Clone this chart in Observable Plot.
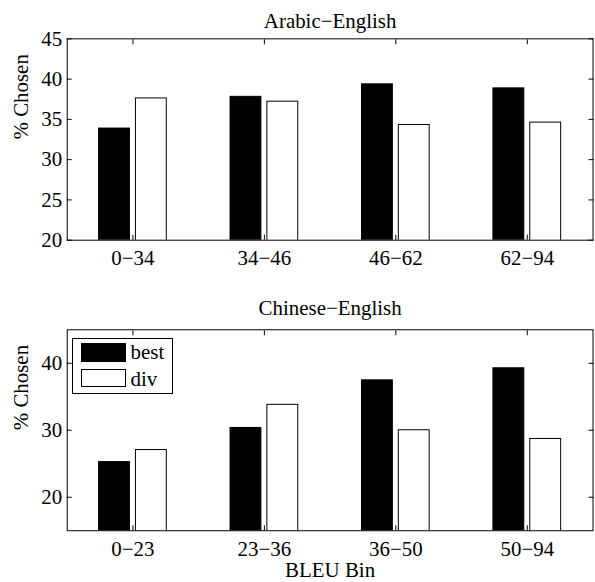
<!DOCTYPE html>
<html><head><meta charset="utf-8">
<script src="https://cdn.jsdelivr.net/npm/d3@7"></script>
<script src="https://cdn.jsdelivr.net/npm/@observablehq/plot@0.6"></script>
<style>
html,body{margin:0;padding:0;background:#fff;overflow:hidden;}
#wrap{position:relative;width:595px;height:582px;overflow:hidden;}
#wrap svg{display:block;}
#legend{position:absolute;left:72px;top:338px;width:101px;height:56px;border:1px solid #000;background:#fff;font-family:"Liberation Serif","Times New Roman",Times,"DejaVu Serif",serif;font-size:21px;line-height:21px;box-sizing:border-box;}
#legend .sw{position:absolute;left:8px;width:45px;height:18.5px;border:1px solid #000;box-sizing:border-box;}
#legend .lb{position:absolute;left:57.5px;white-space:nowrap;color:#000;}
</style></head>
<body><div id="wrap"></div>
<script>
const series = ["best", "div"];
const seriesColors = ["black", "white"];

const arBins = ["0−34", "34−46", "46−62", "62−94"];
const arBest = [33.86, 37.8, 39.35, 38.85];
const arDiv  = [37.6, 37.2, 34.3, 34.6];
const arTicks = [20, 25, 30, 35, 40, 45];

const zhBins = ["0−23", "23−36", "36−50", "50−94"];
const zhBest = [25.25, 30.35, 37.45, 39.25];
const zhDiv  = [27.05, 33.8, 30.0, 28.7];
const zhTicks = [20, 30, 40];

const FONT = "'Liberation Serif', 'Times New Roman', Times, 'DejaVu Serif', serif";

function panel({bins, best, div, yDomain, yTicks, title, titleDy, height, marginTop, marginBottom, xLabel}) {
  const rows = [];
  bins.forEach((b, i) => {
    rows.push({bin: b, series: series[0], value: best[i]});
    rows.push({bin: b, series: series[1], value: div[i]});
  });
  const marks = [
    Plot.barY(rows, {fx: "bin", x: "series", y: "value", fill: "series", stroke: "black", strokeWidth: 1, clip: true}),
    Plot.frame({facet: "super", stroke: "black", strokeWidth: 1}),
    Plot.axisY({ticks: yTicks, anchor: "left", tickSize: 0, tickPadding: 5, label: null, fill: "black"}),
    Plot.axisY({ticks: yTicks, anchor: "left", tickSize: 5, dx: 5, text: null, label: null, stroke: "black"}),
    Plot.axisY({ticks: yTicks, anchor: "right", tickSize: 5, dx: -5, text: null, label: null, stroke: "black"}),
    Plot.axisFx({anchor: "bottom", tickSize: 0, tickPadding: 10, label: null, fill: "black"}),
    Plot.axisFx({anchor: "bottom", tickSize: 5, dy: -5, text: null, label: null, stroke: "black"}),
    Plot.axisFx({anchor: "top", tickSize: 5, dy: 5, text: null, label: null, stroke: "black"}),
    Plot.text([title], {facet: "super", frameAnchor: "top", lineAnchor: "bottom", dy: titleDy, text: d => d, fill: "black"}),
    Plot.text(["% Chosen"], {facet: "super", frameAnchor: "left", rotate: -90, lineAnchor: "bottom", dx: -39.3, text: d => d, fill: "black"})
  ];
  if (xLabel) {
    marks.push(Plot.text([xLabel], {facet: "super", frameAnchor: "bottom", lineAnchor: "bottom", dy: 46, text: d => d, fill: "black"}));
  }
  const svg = Plot.plot({
    width: 597.5,
    height,
    marginLeft: 65,
    marginRight: 1,
    marginTop,
    marginBottom,
    style: {fontFamily: FONT, fontSize: "21px", background: "white", overflow: "visible", color: "black"},
    fx: {domain: bins, padding: 0, label: null},
    x: {domain: series, paddingInner: 0.158, paddingOuter: 0.826, axis: null},
    y: {domain: yDomain, label: null},
    color: {domain: series, range: seriesColors},
    marks
  });
  svg.style.fontFamily = FONT;
  svg.querySelectorAll("text").forEach(t => t.setAttribute("font-family", FONT));
  return svg;
}

const wrap = document.getElementById("wrap");
wrap.appendChild(panel({
  bins: arBins, best: arBest, div: arDiv, yDomain: [20, 45], yTicks: arTicks,
  title: "Arabic−English", titleDy: -10.5, height: 280, marginTop: 38.5, marginBottom: 39.3
}));
wrap.appendChild(panel({
  bins: zhBins, best: zhBest, div: zhDiv, yDomain: [15, 45], yTicks: zhTicks,
  title: "Chinese−English", titleDy: -14.5, height: 302, marginTop: 50.5, marginBottom: 49.7, xLabel: "BLEU Bin"
}));

// legend
const legend = document.createElement("div");
legend.id = "legend";
const swTops = [4, 29.7];
const lbTops = [3.4, 30.1];
series.forEach((s, i) => {
  const sw = document.createElement("div");
  sw.className = "sw";
  sw.style.top = swTops[i] + "px";
  sw.style.background = seriesColors[i];
  legend.appendChild(sw);
  const lb = document.createElement("div");
  lb.className = "lb";
  lb.style.top = lbTops[i] + "px";
  lb.textContent = s;
  legend.appendChild(lb);
});
wrap.appendChild(legend);
</script>
</body></html>
